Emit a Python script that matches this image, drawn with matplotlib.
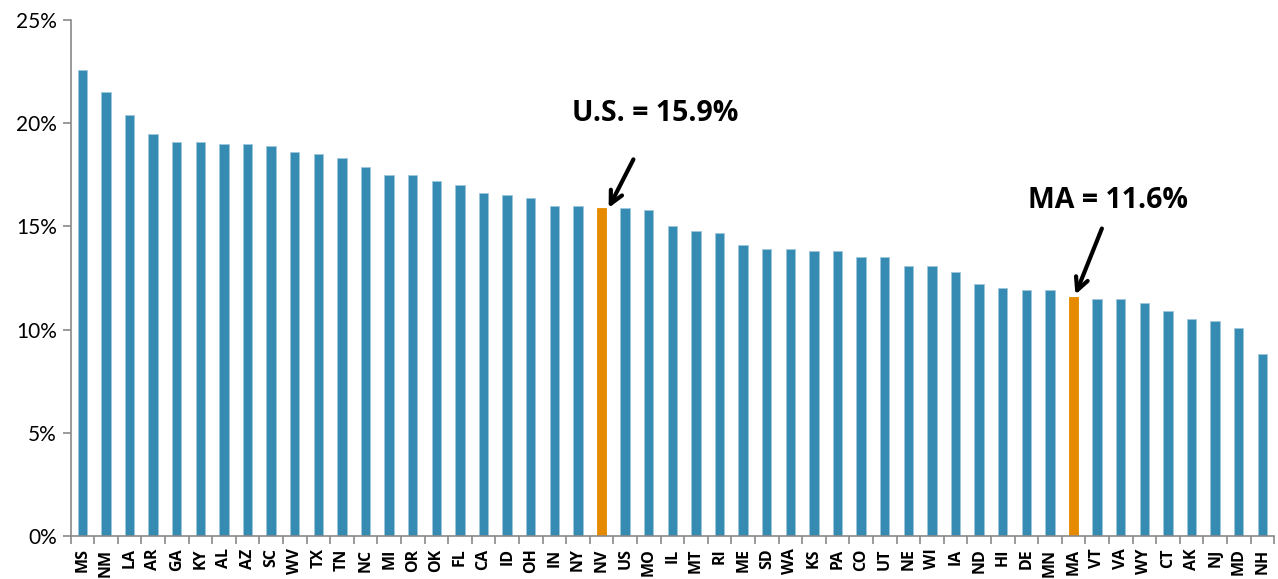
import matplotlib
matplotlib.use("Agg")
import matplotlib.pyplot as plt
from matplotlib.ticker import FuncFormatter

states = ["MS", "NM", "LA", "AR", "GA", "KY", "AL", "AZ", "SC", "WV", "TX", "TN", "NC",
          "MI", "OR", "OK", "FL", "CA", "ID", "OH", "IN", "NY", "NV", "US", "MO", "IL",
          "MT", "RI", "ME", "SD", "WA", "KS", "PA", "CO", "UT", "NE", "WI", "IA", "ND",
          "HI", "DE", "MN", "MA", "VT", "VA", "WY", "CT", "AK", "NJ", "MD", "NH"]
values = [22.6, 21.5, 20.4, 19.5, 19.1, 19.1, 19.0, 19.0, 18.9, 18.6, 18.5, 18.3, 17.9,
          17.5, 17.5, 17.2, 17.0, 16.6, 16.5, 16.4, 16.0, 16.0, 15.9, 15.9, 15.8, 15.0,
          14.8, 14.7, 14.1, 13.9, 13.9, 13.8, 13.8, 13.5, 13.5, 13.1, 13.1, 12.8, 12.2,
          12.0, 11.9, 11.9, 11.6, 11.5, 11.5, 11.3, 10.9, 10.5, 10.4, 10.1, 8.8]
highlight = ["NV", "MA"]
yticks = [0, 5, 10, 15, 20, 25]

plt.rcParams['font.family'] = ['Lato', 'DejaVu Sans']

BLUE = "#358BB1"
ORANGE = "#E68A00"

fig = plt.figure(figsize=(12.78, 5.79), dpi=100)
ax = fig.add_axes([0.0552, 0.0743, 0.9418, 0.891])

x = list(range(len(states)))
colors = [ORANGE if s in highlight else BLUE for s in states]
edges = [ORANGE if s in highlight else "#9cc7dc" for s in states]
ax.bar(x, values, width=0.4, color=colors, edgecolor=edges, linewidth=0.6)

ax.set_xlim(-0.5, len(states) - 0.5)
ax.set_ylim(0, 25)
ax.set_yticks(yticks)
ax.yaxis.set_major_formatter(FuncFormatter(lambda v, p: f"{int(v)}%"))
ax.tick_params(axis="y", labelsize=15, length=6, width=1.2, color="#898989", pad=4)

ax.set_xticks([i + 0.5 for i in range(-1, len(states))], minor=False)
ax.set_xticklabels([])
ax.set_xticks(x, minor=True)
ax.set_xticklabels(states, minor=True, rotation=90)
for lbl in ax.get_xticklabels(minor=True):
    lbl.set_fontfamily(['Open Sans', 'DejaVu Sans'])
    lbl.set_fontweight("bold")
    lbl.set_fontsize(11.5)
ax.tick_params(axis="x", which="major", length=6, width=1.2, color="#898989", direction="out")
ax.tick_params(axis="x", which="minor", length=0, pad=9)

for side in ["top", "right"]:
    ax.spines[side].set_visible(False)
for side in ["left", "bottom"]:
    ax.spines[side].set_color("#898989")
    ax.spines[side].set_linewidth(1.2)

arrowprops = dict(arrowstyle="->,head_length=0.9,head_width=0.45", color="black", lw=3,
                  shrinkA=0, shrinkB=0)
ax.annotate("", xy=(22.3, 15.9), xytext=(23.35, 18.25), arrowprops=arrowprops)
ax.text(24.28, 20.47, "U.S. = 15.9%", ha="center", va="center", fontsize=20.5,
        fontweight="bold", family=['Open Sans', 'DejaVu Sans'])
ax.annotate("", xy=(42.08, 11.7), xytext=(43.2, 14.9), arrowprops=arrowprops)
ax.text(43.47, 16.26, "MA = 11.6%", ha="center", va="center", fontsize=20.5,
        fontweight="bold", family=['Open Sans', 'DejaVu Sans'])

fig.savefig("out.png", dpi=100)
